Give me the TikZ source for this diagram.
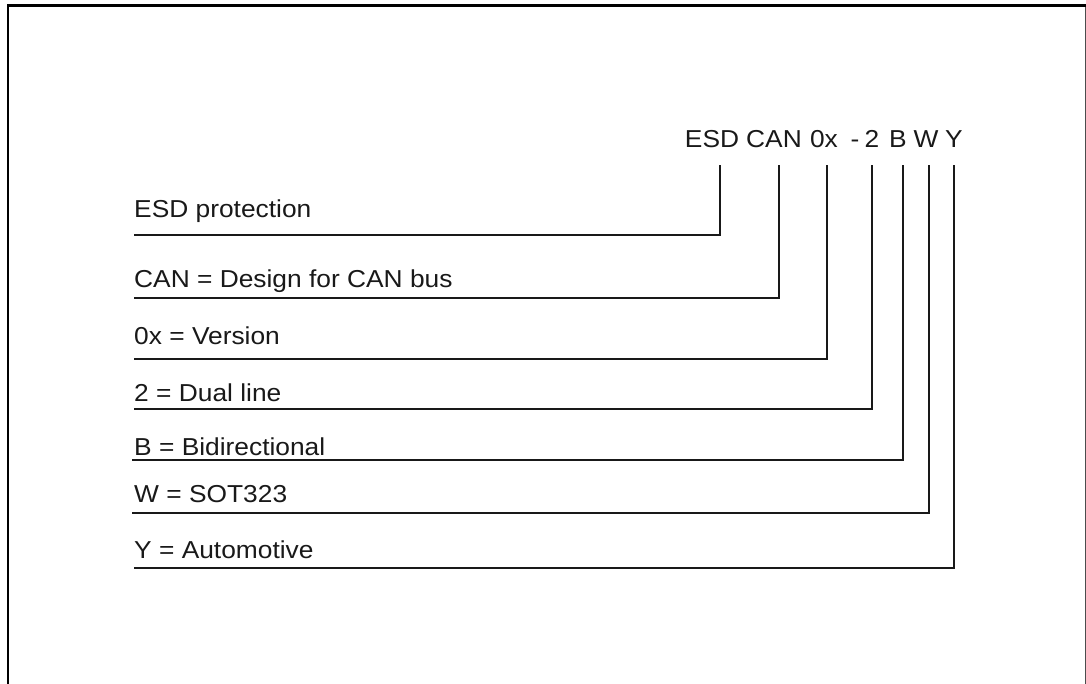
\documentclass[tikz,border=0pt]{standalone}
\usepackage{fontspec}
\setmainfont{Liberation Sans}[FakeStretch=1.075]
\begin{document}
\begin{tikzpicture}[x=1pt,y=-1pt,
  lbl/.style={anchor=base west,inner sep=0pt,font=\fontsize{24.5}{28}\selectfont,text=black!90},
  hdr/.style={anchor=base,inner sep=0pt,font=\fontsize{24.5}{28}\selectfont,text=black!90},
  conn/.style={draw=black!90,line width=2pt}]
\useasboundingbox (0,0) rectangle (1086,684);
\clip (0,0) rectangle (1086,684);
% frame
\draw[black!70,line width=1pt] (1085,5.5) -- (1085,700);
\draw[black,line width=2.5pt] (8,700) -- (8,5.5) -- (1086,5.5);
% header tokens
\node[hdr] (hESD) at (712,147.7) {ESD};
\node[hdr] (hCAN) at (774,147.7) {CAN};
\node[hdr] (h0x)  at (824,147.7) {0x};
\node[hdr] (hdash) at (855,147.7) {-};
\node[hdr] (h2)   at (872,147.7) {2};
\node[hdr] (hB)   at (898,147.7) {B};
\node[hdr] (hW)   at (926,147.7) {W};
\node[hdr] (hY)   at (954,147.7) {Y};
% tick tops
\coordinate (t1) at (720.3,165);
\coordinate (t2) at (779,165);
\coordinate (t3) at (826.7,165);
\coordinate (t4) at (872,165);
\coordinate (t5) at (903.3,165);
\coordinate (t6) at (929,165);
\coordinate (t7) at (954,165);
% labels
\node[lbl] (l1) at (134,217.7) {ESD protection};
\node[lbl] (l2) at (134,287.3) {CAN = Design for CAN bus};
\node[lbl] (l3) at (134,344) {0x = Version};
\node[lbl] (l4) at (134,401.7) {2 = Dual line};
\node[lbl] (l5) at (134,455.7) {B = Bidirectional};
\node[lbl] (l6) at (134,502.3) {W = SOT323};
\node[lbl] (l7) at (134,558.3) {Y = Automotive};
% line starts
\coordinate (s1) at (134,235);
\coordinate (s2) at (134,297.7);
\coordinate (s3) at (134,358.5);
\coordinate (s4) at (134,409.3);
\coordinate (s5) at (132,459.5);
\coordinate (s6) at (132,513.3);
\coordinate (s7) at (134,568.3);
% connectors
\draw[conn] (s1) -| (t1);
\draw[conn] (s2) -| (t2);
\draw[conn] (s3) -| (t3);
\draw[conn] (s4) -| (t4);
\draw[conn] (s5) -| (t5);
\draw[conn] (s6) -| (t6);
\draw[conn] (s7) -| (t7);
\end{tikzpicture}
\end{document}
